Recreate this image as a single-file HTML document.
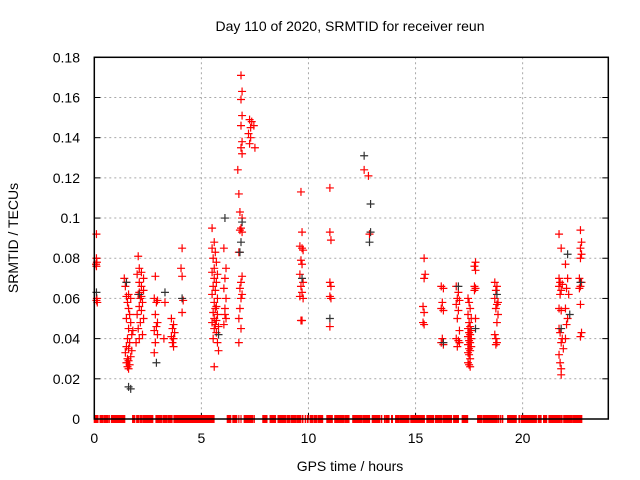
<!DOCTYPE html>
<html><head><meta charset="utf-8"><style>
body{margin:0;background:#fff}
svg{display:block;font-family:"Liberation Sans",sans-serif}
</style></head><body>
<svg id="chart" width="640" height="480" viewBox="0 0 640 480" xmlns="http://www.w3.org/2000/svg">
<text x="350" y="31" font-size="14" text-anchor="middle">Day 110 of 2020, SRMTID for receiver reun</text>
<text x="350" y="471" font-size="14" text-anchor="middle">GPS time / hours</text>
<text x="18" y="238" font-size="14" text-anchor="middle" transform="rotate(-90 18 238)">SRMTID / TECUs</text>
<g id="grid"></g>
<g id="ticks"></g>
<g id="zeros"></g>
<g id="red"></g>
<g id="blk"></g>
<rect x="94.3" y="57.3" width="514" height="361.7" fill="none" stroke="#000" stroke-width="1.5"/>
</svg>
<script>
const xTicks=[0,5,10,15,20];
const yTicks=[0,0.02,0.04,0.06,0.08,0.1,0.12,0.14,0.16,0.18];
const yTickLabels=["0","0.02","0.04","0.06","0.08","0.1","0.12","0.14","0.16","0.18"];
const redPoints=[
[0.1,.092],[0.1,.080],[0.12,.078],[0.08,.077],[0.1,.076],[0.12,.060],[0.1,.059],[0.14,.058],
[1.4,.070],[1.5,.068],[1.45,.066],[1.6,.062],[1.5,.061],[1.7,.060],[1.55,.058],[1.6,.055],[1.65,.052],[1.5,.050],[1.7,.048],[1.6,.045],[1.75,.042],[1.55,.040],[1.65,.038],[1.5,.036],[1.6,.035],[1.45,.033],[1.7,.031],[1.55,.030],[1.6,.029],[1.5,.028],[1.65,.027],[1.55,.026],[1.6,.025],[1.75,.034],[1.8,.044],
[2.05,.081],[2.1,.075],[2.2,.073],[2.0,.072],[2.3,.070],[2.1,.068],[2.2,.066],[2.3,.064],[2.05,.062],[2.15,.060],[2.25,.058],[2.1,.056],[2.2,.054],[2.0,.052],[2.3,.050],[2.15,.048],[2.05,.045],[2.25,.042],[2.1,.040],[1.95,.038],[2.2,.061],[2.1,.063],
[2.85,.071],[2.8,.060],[2.95,.059],[2.9,.058],[2.85,.052],[2.95,.048],[2.9,.046],[2.8,.044],[2.95,.042],[2.85,.038],[2.8,.033],[3.3,.058],[3.25,.040],
[3.6,.050],[3.7,.047],[3.65,.045],[3.75,.043],[3.6,.041],[3.7,.040],[3.65,.038],[3.7,.036],
[4.1,.085],[4.05,.075],[4.1,.071],[4.15,.059],[4.1,.053],
[5.5,.095],[5.6,.088],[5.5,.085],[5.65,.083],[5.55,.080],[5.7,.078],[5.6,.075],[5.5,.073],[5.75,.072],[5.6,.070],[5.7,.068],[5.55,.066],[5.65,.064],[5.5,.062],[5.75,.060],[5.6,.058],[5.7,.056],[5.65,.055],[5.55,.053],[5.75,.052],[5.6,.050],[5.7,.049],[5.5,.048],[5.65,.047],[5.8,.046],[5.6,.045],[5.7,.043],[5.55,.040],[5.75,.038],[5.8,.034],[5.6,.026],
[6.05,.085],[6.15,.075],[6.1,.070],[6.05,.065],[6.15,.060],[6.1,.055],[6.1,.052],[6.15,.050],[6.05,.047],
[6.85,.171],[6.9,.163],[6.85,.159],[6.9,.151],[6.85,.146],[6.9,.138],[6.85,.135],[6.9,.132],[6.7,.124],[6.75,.112],[6.8,.103],[6.9,.100],[6.85,.095],[6.8,.094],[6.9,.093],[6.75,.083],[6.9,.071],[6.85,.068],[6.8,.065],[6.9,.062],[6.85,.060],[6.8,.055],[6.75,.050],[6.85,.045],[6.75,.038],
[7.25,.149],[7.35,.148],[7.3,.145],[7.45,.146],[7.2,.142],[7.3,.140],[7.5,.135],[7.25,.137],
[9.65,.113],[9.7,.093],[9.6,.086],[9.7,.085],[9.75,.084],[9.65,.079],[9.7,.077],[9.6,.072],[9.75,.068],[9.65,.066],[9.7,.063],[9.6,.061],[9.75,.060],[9.65,.049],[9.7,.049],
[11.0,.115],[11.0,.093],[11.05,.089],[11.0,.068],[11.05,.066],[11.0,.061],[11.05,.060],[11.0,.046],
[12.6,.124],[12.8,.121],[12.85,.092],
[15.4,.080],[15.45,.072],[15.4,.070],[15.35,.056],[15.4,.053],[15.35,.048],[15.4,.047],
[16.2,.066],[16.3,.065],[16.25,.058],[16.2,.055],[16.3,.054],[16.25,.040],[16.2,.038],[16.3,.037],
[16.9,.066],[17.0,.063],[16.95,.060],[17.05,.059],[16.9,.057],[17.0,.054],[16.95,.050],[17.05,.044],[16.9,.040],[17.0,.039],[17.05,.038],[16.95,.036],
[17.45,.060],[17.5,.058],[17.55,.055],[17.45,.052],[17.6,.050],[17.5,.048],[17.55,.046],[17.45,.045],[17.6,.044],[17.5,.043],[17.55,.042],[17.45,.041],[17.6,.040],[17.5,.039],[17.55,.038],[17.45,.037],[17.6,.036],[17.5,.035],[17.55,.034],[17.45,.033],[17.5,.032],[17.55,.030],[17.45,.028],[17.5,.027],[17.55,.026],
[17.8,.078],[17.75,.076],[17.8,.074],[17.75,.066],[17.8,.065],[17.75,.064],[17.8,.050],
[18.7,.068],[18.8,.066],[18.75,.064],[18.7,.060],[18.85,.058],[18.8,.057],[18.75,.055],[18.85,.052],[18.8,.048],[18.7,.042],[18.75,.040],[18.8,.038],[18.75,.037],
[21.7,.092],[21.8,.085],[21.7,.070],[21.75,.068],[21.85,.067],[21.7,.066],[21.8,.064],[21.75,.062],[21.7,.055],[21.8,.054],[21.7,.045],[21.75,.043],[21.85,.040],[21.8,.038],[21.9,.035],[21.7,.032],[21.75,.028],[21.8,.025],[21.8,.022],
[22.0,.077],[22.1,.070],[22.05,.065],[22.15,.062],[22.0,.055],[22.1,.050],[22.05,.047],[22.0,.040],
[22.7,.094],[22.75,.088],[22.7,.085],[22.75,.082],[22.7,.080],[22.65,.070],[22.75,.068],[22.7,.066],[22.65,.065],[22.7,.057],[22.75,.043],[22.7,.041]
];
const blackPoints=[[0.1,.063],[1.5,.068],[1.6,.016],[1.7,.015],[2.1,.062],[2.9,.028],[3.3,.063],[4.1,.060],[5.8,.042],[6.1,.100],[6.9,.098],[6.85,.088],[6.8,.083],[9.7,.070],[11.0,.050],[12.6,.131],[12.9,.107],[12.9,.093],[12.85,.088],[16.3,.038],[17.0,.066],[17.8,.045],[18.8,.062],[21.8,.045],[22.1,.082],[22.2,.052],[22.7,.068]];
const zeroRanges=[[0,.17],[.27,.39],[.45,.64],[.7,.7],[.8,1.42],[1.79,1.89],[1.98,2.07],[2.14,2.23],[2.29,2.73],[2.88,3.16],[3.23,3.38],[3.44,3.63],[3.72,5.59],[6.21,6.37],[6.47,6.65],[6.75,6.75],[6.85,6.85],[7.0,7.4],[7.47,7.47],[7.87,8.06],[8.21,8.46],[8.58,8.93],[9.0,9.14],[9.21,9.43],[9.49,9.64],[9.72,9.74],[9.85,9.86],[9.95,9.98],[10.08,10.2],[10.27,10.39],[10.46,10.66],[10.86,11.11],[11.23,11.67],[11.73,11.89],[12.07,12.29],[12.32,12.48],[12.54,12.7],[12.73,12.85],[12.98,13.32],[13.4,13.42],[13.55,13.57],[13.63,13.76],[13.88,13.92],[14.07,14.22],[14.28,14.69],[14.78,15.41],[15.53,15.84],[15.93,16.21],[16.28,16.68],[16.78,16.96],[16.99,17.0],[17.18,17.43],[17.9,18.08],[18.15,18.34],[18.36,18.8],[18.86,18.87],[18.95,18.96],[19.04,19.07],[19.3,19.46],[19.5,19.7],[19.83,19.85],[19.93,20.64],[20.73,20.86],[20.98,21.12],[21.23,21.76],[21.82,21.84],[21.92,22.32],[22.38,22.76]];
const X0=94.3,XW=514,XMAX=24,Y0=419,YH=361.7,YMAX=0.18;
function sx(h){return X0+h/XMAX*XW}
function sy(v){return Y0-v/YMAX*YH}
const NS="http://www.w3.org/2000/svg";
function mk(tag,attrs,parent){const e=document.createElementNS(NS,tag);for(const k in attrs)e.setAttribute(k,attrs[k]);parent.appendChild(e);return e;}
const grid=document.getElementById('grid'),ticks=document.getElementById('ticks');
yTicks.forEach((v,i)=>{const y=sy(v);
 if(i>0&&i<yTicks.length-1){const g=mk('line',{x1:X0,x2:X0+XW,y1:y,y2:y,stroke:'#a8a8a8','stroke-dasharray':'2,3'},grid);}
 const t=mk('line',{x1:X0,x2:X0+6,y1:y,y2:y,stroke:'#000'},ticks);
 const t2=mk('line',{x1:X0+XW-6,x2:X0+XW,y1:y,y2:y,stroke:'#000'},ticks);
 const l=mk('text',{x:80,y:y+5,'font-size':14,'text-anchor':'end'},ticks);l.textContent=yTickLabels[i];});
xTicks.forEach(h=>{const x=sx(h);
 if(h>0){const g=mk('line',{x1:x,x2:x,y1:57.3,y2:Y0,stroke:'#a8a8a8','stroke-dasharray':'2,3'},grid);}
 const t=mk('line',{x1:x,x2:x,y1:Y0,y2:Y0-6,stroke:'#000'},ticks);
 const l=mk('text',{x:x,y:443,'font-size':14,'text-anchor':'middle'},ticks);l.textContent=String(h);});
function cross(p,col,parent,name){const x=sx(p[0]),y=sy(p[1]);
 const e=mk('path',{d:`M${x-4} ${y}H${x+4}M${x} ${y-4}V${y+4}`,stroke:col,'stroke-width':1.2,fill:'none'},parent);
 
 }
redPoints.forEach(p=>cross(p,'#ff0000',document.getElementById('red'),'red-point'));
blackPoints.forEach(p=>cross(p,'#333333',document.getElementById('blk'),'black-point'));
zeroRanges.forEach(r=>{const a=sx(r[0])-0.6,b=sx(r[1])+0.6;
 const e=mk('rect',{x:a,y:Y0-4,width:b-a,height:8,fill:'#ff0000'},document.getElementById('zeros'));
 
 });
</script>
</body></html>
